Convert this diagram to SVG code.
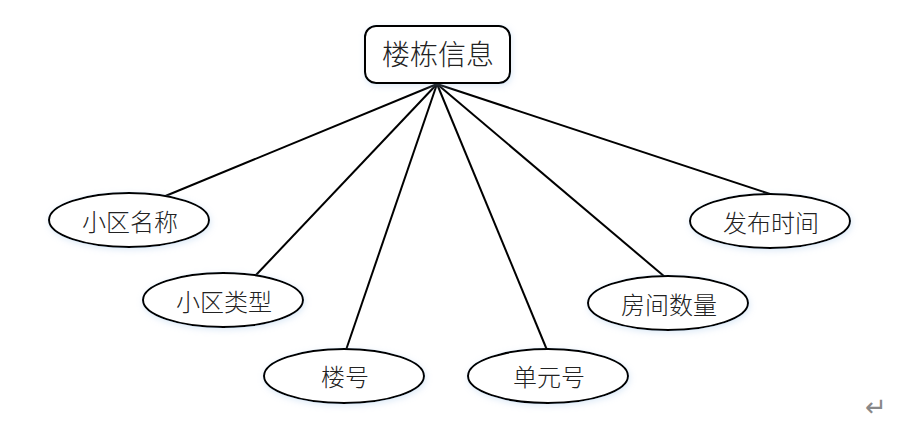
<svg xmlns="http://www.w3.org/2000/svg" width="902" height="441" viewBox="0 0 902 441">
<style>
.n{fill:#fff;stroke:#000;stroke-width:2;filter:url(#sh)}
.t{font-family:"Noto Sans CJK SC","Liberation Sans",sans-serif;font-size:24px;font-weight:300;fill:#222;text-anchor:middle;dominant-baseline:central}
.c{stroke:#000;stroke-width:2;fill:none}
</style>
<defs>
<filter id="sh" x="-20%" y="-30%" width="140%" height="160%">
<feGaussianBlur in="SourceAlpha" stdDeviation="3"/>
<feOffset dx="1" dy="2" result="b"/>
<feFlood flood-color="#9fc3e8" flood-opacity="0.35"/>
<feComposite in2="b" operator="in"/>
<feMerge><feMergeNode/><feMergeNode in="SourceGraphic"/></feMerge>
</filter>
</defs>
<rect width="902" height="441" fill="#fff"/>
<g id="connectors">
<line class="c" x1="437" y1="84" x2="163" y2="197"/>
<line class="c" x1="437" y1="84" x2="256" y2="275"/>
<line class="c" x1="437" y1="84" x2="346" y2="350"/>
<line class="c" x1="437" y1="84" x2="547" y2="350"/>
<line class="c" x1="437" y1="84" x2="665" y2="277"/>
<line class="c" x1="437" y1="84" x2="773" y2="195"/>
</g>
<g id="root">
<rect class="n" x="365" y="26" width="145" height="57" rx="11"/>
<text class="t" x="438" y="53" style="font-size:28px">楼栋信息</text>
</g>
<g id="n1"><ellipse class="n" cx="129" cy="220" rx="80" ry="27"/><text class="t" x="130" y="220">小区名称</text></g>
<g id="n2"><ellipse class="n" cx="223" cy="300" rx="80" ry="27"/><text class="t" x="224" y="300">小区类型</text></g>
<g id="n3"><ellipse class="n" cx="344" cy="376" rx="80" ry="27"/><text class="t" x="345" y="375">楼号</text></g>
<g id="n4"><ellipse class="n" cx="548" cy="376" rx="80" ry="27"/><text class="t" x="549" y="375">单元号</text></g>
<g id="n5"><ellipse class="n" cx="668" cy="303" rx="80" ry="27"/><text class="t" x="669" y="303">房间数量</text></g>
<g id="n6"><ellipse class="n" cx="770" cy="221" rx="80" ry="27"/><text class="t" x="771" y="221">发布时间</text></g>
<text x="876" y="407" style="font-family:'DejaVu Sans',sans-serif;font-size:26px;fill:#888;text-anchor:middle;dominant-baseline:central">↵</text>
</svg>
